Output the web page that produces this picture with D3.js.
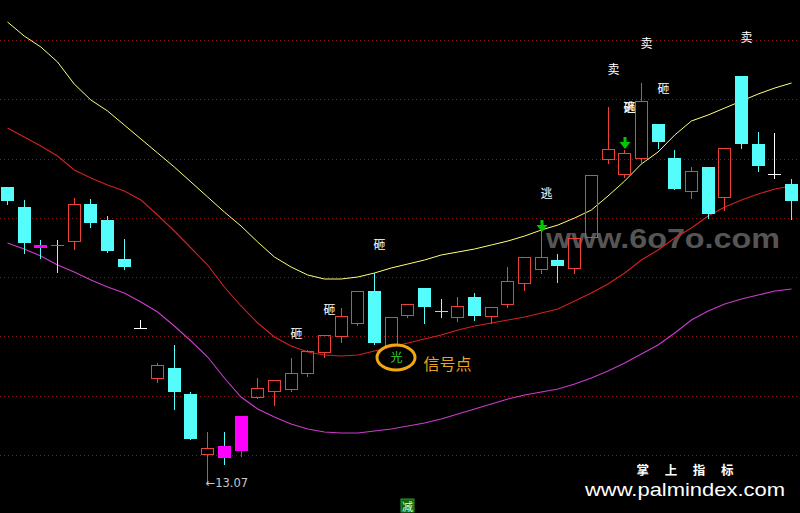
<!DOCTYPE html>
<html><head><meta charset="utf-8">
<script src="https://cdn.jsdelivr.net/npm/d3@7"></script>
<style>html,body{margin:0;padding:0;background:#000;overflow:hidden}</style>
</head><body><svg id="c" width="800" height="513"></svg>
<script>
// ---- data (prices) ----
const opens  = [16.02,15.82,15.44,15.44,15.48,15.85,15.69,15.30,14.61,14.11,14.21,13.95,13.35,13.43,13.38,13.92,13.98,14.00,14.16,14.37,14.53,14.66,14.98,14.44,14.74,15.01,14.78,14.72,14.92,14.73,14.85,15.06,15.20,15.29,15.21,15.52,16.30,16.15,16.31,16.65,16.31,15.98,16.22,15.92,17.13,16.45,16.15,16.05];
const highs  = [16.02,15.89,15.49,15.49,15.91,15.90,15.73,15.50,14.69,14.26,14.44,13.97,13.57,13.57,13.73,14.11,14.09,14.31,14.39,14.54,14.81,14.98,15.16,14.72,14.85,15.01,14.90,14.92,14.96,14.82,15.22,15.32,15.60,15.35,15.51,16.14,16.82,16.39,17.06,16.65,16.39,16.22,16.22,16.41,17.13,16.57,16.56,16.10];
const lows   = [15.85,15.36,15.31,15.17,15.40,15.62,15.37,15.20,14.61,14.07,13.80,13.50,13.07,13.25,13.33,13.91,13.84,13.98,14.13,14.32,14.47,14.64,14.45,14.44,14.72,14.66,14.72,14.68,14.69,14.66,14.82,14.99,15.16,15.07,15.16,15.52,16.26,16.12,16.26,16.41,16.00,15.91,15.71,15.79,16.41,16.18,16.11,15.70];
const closes = [15.88,15.46,15.41,15.44,15.85,15.66,15.38,15.22,14.61,14.24,13.97,13.50,13.41,13.31,13.73,14.01,14.09,14.16,14.38,14.54,14.73,14.98,14.46,14.72,14.85,14.82,14.78,14.83,14.73,14.82,15.08,15.32,15.32,15.23,15.51,16.14,16.40,16.36,16.88,16.47,16.00,16.18,15.75,16.41,16.45,16.23,16.15,15.88];
const upperBand = [17.67,17.53,17.42,17.27,17.05,16.89,16.78,16.64,16.50,16.36,16.22,16.07,15.92,15.77,15.63,15.47,15.32,15.22,15.14,15.10,15.10,15.12,15.16,15.21,15.25,15.29,15.34,15.37,15.40,15.44,15.48,15.53,15.59,15.64,15.71,15.79,15.93,16.08,16.25,16.37,16.54,16.68,16.74,16.81,16.88,16.95,17.01,17.06];
const midBand   = [16.61,16.52,16.43,16.33,16.19,16.11,16.04,15.98,15.89,15.74,15.58,15.41,15.24,15.02,14.83,14.66,14.52,14.43,14.37,14.34,14.33,14.34,14.38,14.42,14.46,14.50,14.54,14.59,14.63,14.66,14.69,14.72,14.76,14.80,14.88,14.96,15.05,15.16,15.29,15.39,15.51,15.61,15.73,15.82,15.89,15.95,16.00,16.03];
const lowerBand = [15.46,15.40,15.33,15.24,15.17,15.09,15.02,14.96,14.87,14.77,14.63,14.48,14.32,14.11,13.92,13.80,13.72,13.65,13.60,13.57,13.56,13.56,13.58,13.60,13.63,13.66,13.70,13.75,13.80,13.85,13.90,13.94,13.97,14.00,14.05,14.11,14.18,14.26,14.35,14.44,14.56,14.69,14.78,14.85,14.90,14.94,14.98,15.00];
const markedBars = [2,3,13,14];          // bars highlighted in magenta
const whiteDoji  = [8,46];               // flat bars drawn white
const gridLevels = [17.49,16.90,16.30,15.71,15.12,14.53,13.93,13.34];
const signalIdx   = [17,19,22,32,36,37,37,38,39,44];
const signalText  = ["砸","砸","砸","逃","卖","逃","砸","卖","砸","卖"];
const signalPrice = [14.57,14.81,15.46,15.97,17.21,16.83,16.83,17.47,17.02,17.53];
const arrowIdx   = [32,37];
const arrowPrice = [15.57,16.40];
const lightIdx = 23, lightPrice = 14.33, lightText = "光", lightNote = "信号点";
const reduceIdx = 24, reduceText = "减";
const lowIdx = 12;

// ---- scales ----
const n = opens.length;
const svg = d3.select("#c");
svg.append("rect").attr("width",800).attr("height",513).attr("fill","#000");
const x = d3.scalePoint().domain(d3.range(n)).range([7.5, 791.5]);
const y = d3.scaleLinear().domain([12.76, 17.89]).range([513, 0]);
const px = i => Math.floor(x(i)) + 0.5;
const py = v => Math.round(y(v));

const UP = "#f0403a", DOWN = "#54fcfc", MAG = "#ff00ff";

// grid
svg.append("g").selectAll("line").data(gridLevels).join("line")
  .attr("x1",0).attr("x2",800)
  .attr("y1",d=>py(d)+0.5).attr("y2",d=>py(d)+0.5)
  .attr("stroke","#8a1818").attr("stroke-width",1).attr("stroke-dasharray","1,3");

// watermark
svg.append("text").attr("x",546).attr("y",248)
  .attr("font-family","Liberation Sans, Arial, sans-serif").attr("font-weight","bold")
  .attr("font-size",28).attr("fill","#555555")
  .attr("textLength",234).attr("lengthAdjust","spacingAndGlyphs")
  .text("www.6o7o.com");

// bands
const line = arr => d3.line().x((d,i)=>x(i)).y(d=>y(d))(arr);
svg.append("path").attr("d",line(lowerBand)).attr("fill","none").attr("stroke","#cc3ccc").attr("stroke-width",1.1);
svg.append("path").attr("d",line(midBand)).attr("fill","none").attr("stroke","#d42020").attr("stroke-width",1.1);
svg.append("path").attr("d",line(upperBand)).attr("fill","none").attr("stroke","#ffff78").attr("stroke-width",1);

// candles
const g = svg.append("g").attr("shape-rendering","crispEdges");
for (let i=0;i<n;i++){
  const o=opens[i],h=highs[i],l=lows[i],c=closes[i];
  const left = Math.floor(x(i)) - 6, wx = Math.floor(x(i));
  const yH=py(h), yL=py(l), yTop=py(Math.max(o,c)), yBot=py(Math.min(o,c));
  const marked = markedBars.includes(i);
  if (c>o){
    const col = marked ? MAG : UP;
    if (yTop>yH) g.append("rect").attr("x",wx).attr("y",yH).attr("width",1).attr("height",yTop-yH).attr("fill",col);
    if (yL>yBot) g.append("rect").attr("x",wx).attr("y",yBot).attr("width",1).attr("height",yL-yBot+1).attr("fill",col);
    if (marked) g.append("rect").attr("x",left).attr("y",yTop).attr("width",13).attr("height",Math.max(1,yBot-yTop)).attr("fill",MAG);
    else {
      const hh = yBot - yTop + 1;
      g.append("path").attr("fill-rule","evenodd").attr("fill",UP)
        .attr("d",`M${left},${yTop}h13v${hh}h-13Z M${left+1},${yTop+1}v${hh-2}h11v${-(hh-2)}Z`);
    }
  } else if (c<o){
    g.append("rect").attr("x",wx).attr("y",yH).attr("width",1).attr("height",yL-yH+1).attr("fill",DOWN);
    g.append("rect").attr("x",left).attr("y",yTop).attr("width",13).attr("height",Math.max(1,yBot-yTop)).attr("fill",marked?MAG:DOWN);
  } else {
    const white = whiteDoji.includes(i);
    const col = white ? "#ffffff" : DOWN;
    g.append("rect").attr("x",wx).attr("y",yH).attr("width",1).attr("height",yL-yH+1).attr("fill", white?"#ffffff":"#90ffff");
    g.append("rect").attr("x",left).attr("y",yTop).attr("width",13).attr("height",1).attr("fill",marked?"#c040c0":col);
  }
}

// signal texts
const cjk = "Noto Sans CJK SC, sans-serif";
svg.append("g").selectAll("text").data(signalIdx).join("text")
  .attr("x",(d)=>px(d)+5).attr("y",(d,k)=>y(signalPrice[k]))
  .attr("text-anchor","middle").attr("dominant-baseline","central")
  .attr("font-family",cjk).attr("font-size",12).attr("fill","#ffffff")
  .text((d,k)=>signalText[k]);

// green arrows
svg.append("g").selectAll("path").data(arrowIdx).join("path")
  .attr("d",(d,k)=>{const cx=px(d), ty=py(arrowPrice[k]);
    return `M${cx-1},${ty-12}L${cx+2},${ty-12}L${cx+2},${ty-7}L${cx+6},${ty-7}L${cx+0.5},${ty}L${cx-5},${ty-7}L${cx-1},${ty-7}Z`;})
  .attr("fill","#00c800");

// light signal
const lx = px(lightIdx)+5, ly = y(lightPrice);
svg.append("ellipse").attr("cx",lx-0.5).attr("cy",ly+1.5).attr("rx",19).attr("ry",12.5)
  .attr("fill","none").attr("stroke","#f0a810").attr("stroke-width",3);
svg.append("text").attr("x",lx).attr("y",ly).attr("text-anchor","middle").attr("dominant-baseline","central")
  .attr("font-family",cjk).attr("font-size",12).attr("fill","#30d030").text(lightText);
svg.append("text").attr("x",lx+27).attr("y",ly+14).attr("font-family",cjk).attr("font-size",16)
  .attr("fill","#e8a420").text(lightNote);

// reduce marker at bottom
const rx0 = Math.floor(x(reduceIdx)) - 6;
svg.append("rect").attr("x",rx0).attr("y",499).attr("width",13).attr("height",13).attr("fill","#0c6a0c").attr("stroke","#2a9a2a").attr("stroke-width",1);
svg.append("text").attr("x",rx0+6.5).attr("y",505.5).attr("text-anchor","middle").attr("dominant-baseline","central")
  .attr("font-family",cjk).attr("font-size",11).attr("fill","#d8ffd8").text(reduceText);

// low label
svg.append("text").attr("x",px(lowIdx)-2).attr("y",py(lows[lowIdx])+4.5)
  .attr("font-family","DejaVu Sans, sans-serif").attr("font-size",11.5).attr("fill","#c8c8c8")
  .text("←" + d3.format(".2f")(lows[lowIdx]));

// footer brand
svg.append("text").attr("x",685).attr("y",475).attr("text-anchor","middle")
  .attr("font-family",cjk).attr("font-weight","bold").attr("font-size",12.5).attr("fill","#ffffff")
  .attr("textLength",97).attr("lengthAdjust","spacing").text("掌 上 指 标");
svg.append("text").attr("x",585).attr("y",496)
  .attr("font-family","Liberation Sans, Arial, sans-serif").attr("font-size",19).attr("fill","#ffffff")
  .attr("textLength",200).attr("lengthAdjust","spacingAndGlyphs").text("www.palmindex.com");
</script></body></html>
